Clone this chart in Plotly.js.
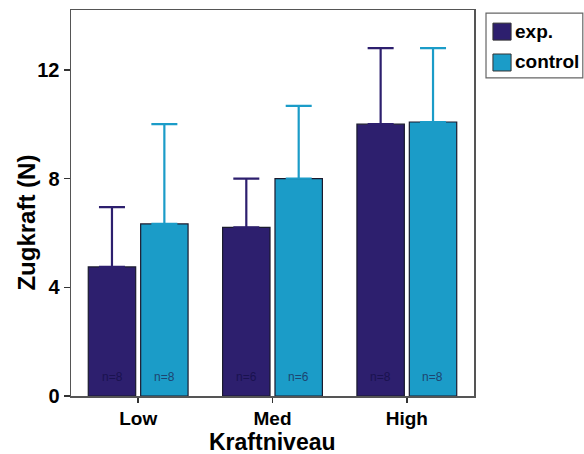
<!DOCTYPE html>
<html><head><meta charset="utf-8">
<script src="https://cdn.plot.ly/plotly-3.0.1.min.js"></script>
<style>body{margin:0;background:#fff}#c{width:584px;height:454px}</style>
</head><body><div id="c"></div>
<script>
const categories = ["Low", "Med", "High"];
const seriesNames = ["exp.", "control"];
const expValues = [4.75, 6.2, 10.0];
const expErrors = [2.2, 1.8, 2.8];
const controlValues = [6.33, 8.0, 10.08];
const controlErrors = [3.67, 2.67, 2.72];
const expN = ["n=8", "n=6", "n=8"];
const controlN = ["n=8", "n=6", "n=8"];
const xTitle = "Kraftniveau";
const yTitle = "Zugkraft (N)";

const expColor = "#2d1f6e";
const ctrlColor = "#1b9cc8";
const FONT = "Liberation Sans, Arial, sans-serif";

function series(name, y, err, color) {
  return {
    type: "bar", name: name, x: categories, y: y,
    marker: {color: color, line: {color: "#1a1a2e", width: 1.2}},
    error_y: {type: "data", array: err, arrayminus: err.map(() => 0), symmetric: false,
              color: color, thickness: 2.2, width: 13},
    hoverinfo: "skip", showlegend: false
  };
}

const data = [
  series(seriesNames[0], expValues, expErrors, expColor),
  series(seriesNames[1], controlValues, controlErrors, ctrlColor)
];

const annotations = [];
categories.forEach((c, i) => {
  annotations.push({x: c, y: 0.7, xref: "x", yref: "y", text: expN[i], showarrow: false,
    xshift: -26, font: {family: FONT, size: 12, color: "#1a1250"}});
  annotations.push({x: c, y: 0.7, xref: "x", yref: "y", text: controlN[i], showarrow: false,
    xshift: 26, font: {family: FONT, size: 12, color: "#1d4470"}});
});

// axis titles placed as annotations
annotations.push({xref: "paper", yref: "paper", x: 0.5, y: -0.118, xanchor: "center", yanchor: "middle",
  text: "<b>" + xTitle + "</b>", showarrow: false, font: {family: FONT, size: 23, color: "#000"}});
annotations.push({xref: "paper", yref: "paper", x: -0.111, y: 0.45, xanchor: "center", yanchor: "middle",
  textangle: -90, text: "<b>" + yTitle + "</b>", showarrow: false, font: {family: FONT, size: 24, color: "#000"}});

// legend drawn in paper coordinates
const legendRows = [{name: seriesNames[0], color: expColor, y0: 0.922, y1: 0.966, ty: 0.944},
                    {name: seriesNames[1], color: ctrlColor, y0: 0.842, y1: 0.886, ty: 0.866}];
const shapes = [{type: "rect", xref: "paper", yref: "paper", x0: 1.0298, x1: 1.27, y0: 0.824, y1: 0.992,
                 line: {color: "#666", width: 1.2}, fillcolor: "#fff"}];
legendRows.forEach(r => {
  shapes.push({type: "rect", xref: "paper", yref: "paper", x0: 1.047, x1: 1.092, y0: r.y0, y1: r.y1,
               line: {color: "#333", width: 1}, fillcolor: r.color});
  annotations.push({xref: "paper", yref: "paper", x: 1.097, y: r.ty, xanchor: "left", yanchor: "middle",
    text: "<b>" + r.name + "</b>", showarrow: false, font: {family: FONT, size: 19, color: "#000"}});
});

const layout = {
  width: 584, height: 454,
  margin: {l: 71, r: 110, t: 10, b: 58},
  paper_bgcolor: "#fff", plot_bgcolor: "#fff",
  barmode: "group", bargap: 0.22, bargroupgap: 0.095,
  font: {family: FONT, color: "#000"},
  showlegend: false,
  annotations: annotations,
  shapes: shapes,
  xaxis: {
    type: "category", range: [-0.5, 2.5],
    showline: true, linecolor: "#555", linewidth: 1.5, mirror: true,
    ticks: "outside", ticklen: 5, tickwidth: 1.5, tickcolor: "#333",
    tickfont: {size: 19, weight: "bold"},
    showgrid: false, zeroline: false
  },
  yaxis: {
    range: [0, 14.2], tickvals: [0, 4, 8, 12], ticktext: ["0", "4", "8", "12"],
    showline: true, linecolor: "#555", linewidth: 1.5, mirror: true,
    ticks: "outside", ticklen: 6, tickwidth: 1.5, tickcolor: "#333",
    tickfont: {size: 20, weight: "bold"},
    showgrid: false, zeroline: false
  }
};

Plotly.newPlot("c", data, layout, {displayModeBar: false, staticPlot: true});
</script>
</body></html>
